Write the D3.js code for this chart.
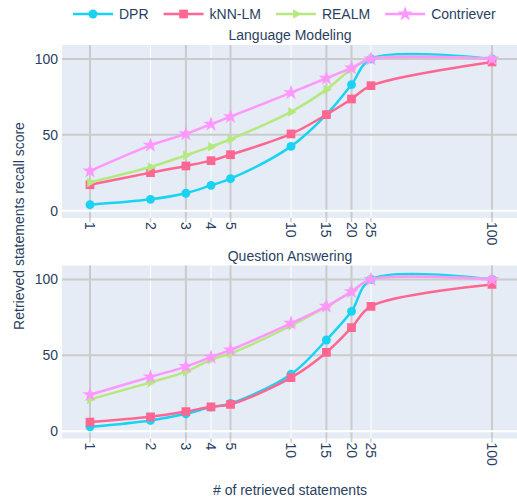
<!DOCTYPE html>
<html>
<head>
<meta charset="utf-8">
<script src="https://cdn.jsdelivr.net/npm/d3@7"></script>
<style>
  html, body { margin: 0; padding: 0; background: #fff; }
  svg { display: block; font-family: "Liberation Sans", Arial, sans-serif; }
</style>
</head>
<body>
<svg id="chart" width="517" height="500"></svg>
<script>
// ---- data ----
const xValues = [1, 2, 3, 4, 5, 10, 15, 20, 25, 100];
const xTickLabels = ["1", "2", "3", "4", "5", "10", "15", "20", "25", "100"];
const yTickValues = [0, 50, 100];
const seriesNames = ["DPR", "kNN-LM", "REALM", "Contriever"];
const panelTitles = ["Language Modeling", "Question Answering"];

// Language Modeling
const lmDPR        = [4.0, 7.5, 11.5, 16.7, 21.1, 42.4, 63.3, 83.1, 100, 100];
const lmKNN        = [17.1, 25.1, 29.5, 33.0, 36.9, 50.6, 63.3, 73.6, 82.4, 98.0];
const lmREALM      = [18.7, 28.8, 36.5, 42.2, 47.1, 65.1, 79.8, 93.4, 100, 100];
const lmContriever = [26.2, 43.1, 50.6, 57.0, 62.0, 77.8, 87.3, 94.1, 100, 100];

// Question Answering
const qaDPR        = [2.9, 7.1, 11.5, 15.9, 18.3, 37.5, 60.1, 79.0, 100, 100];
const qaKNN        = [6.0, 9.5, 13.0, 16.1, 17.7, 35.3, 51.9, 68.2, 82.3, 96.7];
const qaREALM      = [21.0, 32.2, 39.3, 47.2, 51.2, 69.5, 82.0, 92.0, 100, 100];
const qaContriever = [24.0, 35.8, 42.6, 48.8, 53.6, 71.1, 82.3, 92.0, 100, 100];

const panelData = [
  [lmDPR, lmKNN, lmREALM, lmContriever],
  [qaDPR, qaKNN, qaREALM, qaContriever]
];

// ---- styles ----
const colors = ["#19d3f3", "#ff6692", "#b6e880", "#ff97ff"];
const textColor = "#2a3f5f";
const bg = "#e5ecf6";
const grayGrid = "#cbcbcb";
const grayTicks = new Set([1, 3, 5, 15, 20, 100]);

const svg = d3.select("#chart");
const plotLeft = 62, plotRight = 517;
const panels = [{top: 45, bottom: 218}, {top: 265.5, bottom: 438.5}];

const x = d3.scaleLog().domain([1, 100]).range([90, 492]);

function markerPath(i) {
  if (i === 0) return d3.symbol(d3.symbolCircle, 62)();
  if (i === 1) return d3.symbol(d3.symbolSquare, 76)();
  if (i === 2) {
    const r = 5.6;
    return `M${r},0L${-r/2},${-r*0.87}L${-r/2},${r*0.87}Z`;
  }
  return d3.symbol(d3.symbolStar, 72)();
}

svg.append("defs").selectAll("clipPath").data(panels).join("clipPath")
  .attr("id", (d, i) => "clip" + i)
  .append("rect")
  .attr("x", plotLeft).attr("y", d => d.top)
  .attr("width", plotRight - plotLeft).attr("height", d => d.bottom - d.top);

panels.forEach((p, pi) => {
  const y = d3.scaleLinear().domain([-4.8, 109.2]).range([p.bottom, p.top]);
  const g = svg.append("g");

  g.append("rect").attr("x", plotLeft).attr("y", p.top)
    .attr("width", plotRight - plotLeft).attr("height", p.bottom - p.top)
    .attr("fill", bg);

  // vertical grid
  g.selectAll(".vg").data(xValues).join("line")
    .attr("x1", d => x(d)).attr("x2", d => x(d))
    .attr("y1", p.top).attr("y2", p.bottom)
    .attr("stroke", d => grayTicks.has(d) ? grayGrid : "#ffffff")
    .attr("stroke-width", d => grayTicks.has(d) ? 2 : 1);

  // x tick marks (outside)
  g.selectAll(".xt").data(xValues).join("line")
    .attr("x1", d => x(d)).attr("x2", d => x(d))
    .attr("y1", p.bottom).attr("y2", p.bottom + 4)
    .attr("stroke", grayGrid).attr("stroke-width", 1.5);

  // horizontal grid
  g.selectAll(".hg").data(yTickValues).join("line")
    .attr("x1", plotLeft).attr("x2", plotRight)
    .attr("y1", d => y(d)).attr("y2", d => y(d))
    .attr("stroke", d => d === 0 ? "#ffffff" : grayGrid)
    .attr("stroke-width", 2);

  // y tick labels
  g.selectAll(".yl").data(yTickValues).join("text")
    .attr("x", 58).attr("y", d => y(d))
    .attr("dy", "0.35em")
    .attr("text-anchor", "end")
    .attr("font-size", 14).attr("fill", textColor)
    .text(d => d);

  // x tick labels rotated
  g.selectAll(".xl").data(xValues).join("text")
    .attr("transform", d => `translate(${x(d)},${p.bottom + 4}) rotate(90)`)
    .attr("dy", "0.35em")
    .attr("text-anchor", "start")
    .attr("font-size", 14).attr("fill", textColor)
    .text((d, i) => xTickLabels[i]);

  // panel title
  svg.append("text")
    .attr("x", 290).attr("y", p.top - 5)
    .attr("text-anchor", "middle")
    .attr("font-size", 14).attr("fill", textColor)
    .text(panelTitles[pi]);

  // series
  const line = d3.line()
    .x((d, i) => x(xValues[i]))
    .y(d => y(d))
    .curve(d3.curveCatmullRom.alpha(0.5));

  const sg = g.append("g").attr("clip-path", `url(#clip${pi})`);
  panelData[pi].forEach((vals, si) => {
    sg.append("path").datum(vals)
      .attr("d", line)
      .attr("fill", "none")
      .attr("stroke", colors[si])
      .attr("stroke-width", 2.5);
    sg.selectAll(".m" + si).data(vals).join("path")
      .attr("transform", (d, i) => `translate(${x(xValues[i])},${y(d)})`)
      .attr("d", markerPath(si))
      .attr("fill", colors[si]);
  });
});

// axis titles
svg.append("text")
  .attr("transform", "translate(24,226) rotate(-90)")
  .attr("text-anchor", "middle")
  .attr("font-size", 14).attr("fill", textColor)
  .text("Retrieved statements recall score");

svg.append("text")
  .attr("x", 290).attr("y", 495)
  .attr("text-anchor", "middle")
  .attr("font-size", 14).attr("fill", textColor)
  .text("# of retrieved statements");

// legend
const lg = svg.append("g");
let lx = 73;
const ly = 14;
seriesNames.forEach((name, i) => {
  const item = lg.append("g").attr("transform", `translate(${lx},${ly})`);
  item.append("line").attr("x1", 0).attr("x2", 40).attr("y1", 0).attr("y2", 0)
    .attr("stroke", colors[i]).attr("stroke-width", 2.5);
  item.append("path").attr("transform", "translate(20,0)")
    .attr("d", markerPath(i)).attr("fill", colors[i]);
  const t = item.append("text").attr("x", 46).attr("dy", "0.35em")
    .attr("font-size", 14).attr("fill", textColor).text(name);
  const w = t.node().getComputedTextLength();
  lx += 46 + w + 15;
});
</script>
</body>
</html>
